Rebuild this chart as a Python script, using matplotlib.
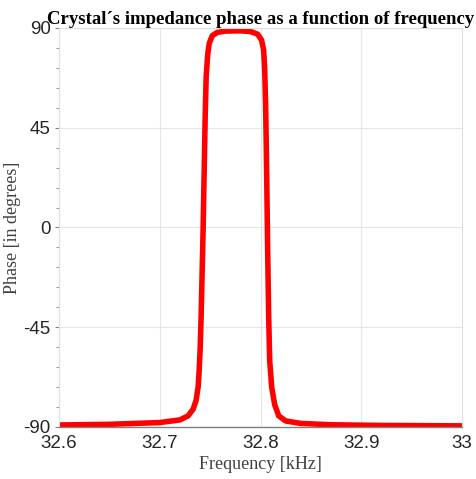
import matplotlib.pyplot as plt
from matplotlib.ticker import MultipleLocator

plt.rcParams['axes.unicode_minus'] = False

# frequency in kHz, phase in degrees
freq = [32.600, 32.650, 32.700, 32.720, 32.728, 32.733, 32.736, 32.738, 32.739, 32.740,
        32.741, 32.742, 32.743, 32.744, 32.745, 32.746, 32.7475, 32.749, 32.752, 32.757,
        32.765, 32.780, 32.790, 32.797, 32.801, 32.803, 32.804, 32.805, 32.806, 32.807,
        32.808, 32.809, 32.811, 32.814, 32.818, 32.825, 32.840, 32.870, 32.920, 33.000]
phase = [-89.1, -88.8, -88.0, -86.8, -85.0, -82.0, -78.0, -72.0, -65.0, -55.0,
         -40.0, -20.0, 0.0, 25.0, 50.0, 68.0, 78.0, 83.0, 86.5, 88.0,
         88.6, 88.7, 88.4, 87.2, 84.5, 80.0, 72.0, 55.0, 25.0, -10.0,
         -40.0, -60.0, -72.0, -80.0, -85.0, -87.3, -88.4, -89.0, -89.3, -89.5]

xticks = [32.6, 32.7, 32.8, 32.9, 33.0]
xlabels = ['32.6', '32.7', '32.8', '32.9', '33']
yticks = [-90, -45, 0, 45, 90]

fig = plt.figure(figsize=(4.76, 4.79), dpi=100)
ax = fig.add_axes([0.124, 0.1086, 0.847, 0.833])

ax.plot(freq, phase, color='#ff0000', lw=4.0, solid_capstyle='round', solid_joinstyle='round')

ax.set_xlim(32.6, 33.0)
ax.set_ylim(-90, 90)
ax.set_xticks(xticks)
ax.set_xticklabels(xlabels)
ax.set_yticks(yticks)
ax.yaxis.set_minor_locator(MultipleLocator(9))
ax.grid(True, color='#e6e6e6', lw=0.8)
ax.set_axisbelow(True)

for s in ['top', 'right', 'left']:
    ax.spines[s].set_color('#e0e0e0')
ax.spines['bottom'].set_color('#808080')
ax.spines['bottom'].set_linewidth(1.0)

ax.tick_params(axis='x', length=0, pad=6, labelsize=13.5, labelcolor='#262626')
ax.tick_params(axis='y', which='major', length=3, direction='out', color='#808080',
               labelsize=13.5, labelcolor='#262626', pad=3)
ax.tick_params(axis='y', which='minor', length=2, direction='out', color='#808080')
for lab in ax.get_xticklabels() + ax.get_yticklabels():
    lab.set_family('Liberation Sans')

ax.set_xlabel('Frequency [kHz]', family='Liberation Serif', fontsize=13, color='#404040', labelpad=3)
ax.set_ylabel('Phase [in degrees]', family='Liberation Serif', fontsize=13, color='#404040', labelpad=2)
ax.set_title('Crystal\u00b4s impedance phase as a function of frequency',
             family='Liberation Serif', fontweight='bold', fontsize=13.5, pad=2)

fig.savefig('out.png', dpi=100)
